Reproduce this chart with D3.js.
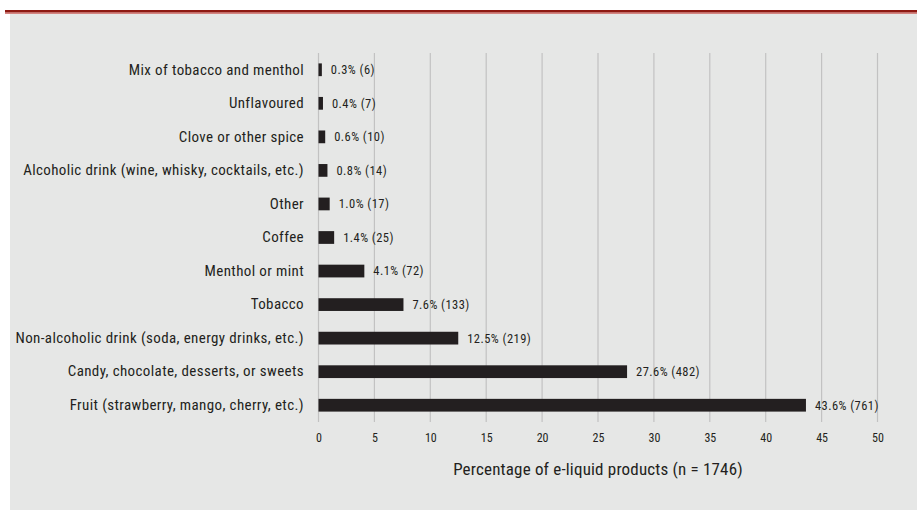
<!DOCTYPE html>
<html>
<head>
<meta charset="utf-8">
<script src="https://cdn.jsdelivr.net/npm/d3@7"></script>
<style>
  body { margin: 0; background: #fff; }
  svg { display: block; }
  text { font-family: "Liberation Sans Narrow", "Roboto Condensed", "Liberation Sans", sans-serif; fill: #231f20; }
</style>
</head>
<body>
<div id="chart"></div>
<script>
// flavour categories, top to bottom
var categories = [
    "Mix of tobacco and menthol",
    "Unflavoured",
    "Clove or other spice",
    "Alcoholic drink (wine, whisky, cocktails, etc.)",
    "Other",
    "Coffee",
    "Menthol or mint",
    "Tobacco",
    "Non-alcoholic drink (soda, energy drinks, etc.)",
    "Candy, chocolate, desserts, or sweets",
    "Fruit (strawberry, mango, cherry, etc.)"
];
var percents = [0.3, 0.4, 0.6, 0.8, 1.0, 1.4, 4.1, 7.6, 12.5, 27.6, 43.6];
var counts = [6, 7, 10, 14, 17, 25, 72, 133, 219, 482, 761];
var xTicks = [0, 5, 10, 15, 20, 25, 30, 35, 40, 45, 50];
var xTitle = "Percentage of e-liquid products (n = 1746)";

var w = 917, h = 510;

var data = categories.map(function (c, i) {
    return {cat: c, pct: percents[i], n: counts[i]};
});

var svg = d3.select("#chart").append("svg")
    .attr("width", w)
    .attr("height", h);

// panel background
svg.append("rect")
    .attr("x", 10).attr("y", 14)
    .attr("width", w - 10).attr("height", h - 14)
    .attr("fill", "#e6e7e6");

// red rule on top
svg.append("rect")
    .attr("x", 5).attr("y", 10)
    .attr("width", w - 5).attr("height", 2.5)
    .attr("fill", "#8e1912");
svg.append("rect")
    .attr("x", 5).attr("y", 12.5)
    .attr("width", w - 5).attr("height", 1.2)
    .attr("fill", "#c0504a");

var x = d3.scaleLinear().domain([0, 50]).range([318.5, 877.5]);
var y = d3.scaleBand().domain(categories).range([53, 422])
    .paddingInner(0.62).paddingOuter(0.31);

// gridlines
svg.append("g").selectAll("line")
    .data(xTicks)
    .enter()
    .append("line")
    .attr("x1", function (d) { return x(d); })
    .attr("x2", function (d) { return x(d); })
    .attr("y1", 53)
    .attr("y2", 422)
    .attr("stroke", "#c2c2c2")
    .attr("stroke-width", 1.2);

// x axis tick labels
var xAxis = d3.axisBottom(x).tickValues(xTicks).tickSize(0).tickPadding(0);
var gx = svg.append("g")
    .attr("transform", "translate(0,433)")
    .call(xAxis);
gx.select(".domain").remove();
gx.selectAll("text")
    .attr("font-size", "12px")
    .attr("dy", "0.71em")
    .style("fill", "#231f20");

// category labels
var yAxis = d3.axisLeft(y).tickSize(0).tickPadding(0);
var gy = svg.append("g")
    .attr("transform", "translate(304,0)")
    .call(yAxis);
gy.select(".domain").remove();
gy.selectAll("text")
    .attr("font-size", "15px")
    .attr("letter-spacing", "0.38px")
    .style("fill", "#231f20");

// bars
svg.append("g").selectAll("rect")
    .data(data)
    .enter()
    .append("rect")
    .attr("x", x(0))
    .attr("y", function (d) { return y(d.cat); })
    .attr("width", function (d) { return x(d.pct) - x(0); })
    .attr("height", y.bandwidth())
    .attr("fill", "#231f20");

// value labels
svg.append("g").selectAll("text")
    .data(data)
    .enter()
    .append("text")
    .attr("x", function (d) { return x(d.pct) + 9; })
    .attr("y", function (d) { return y(d.cat) + y.bandwidth() / 2; })
    .attr("dy", "0.35em")
    .attr("font-size", "12.5px")
    .attr("letter-spacing", "0.45px")
    .text(function (d) { return d.pct.toFixed(1) + "% (" + d.n + ")"; });

// axis title
svg.append("text")
    .attr("x", (x(0) + x(50)) / 2)
    .attr("y", 469)
    .attr("dy", "0.35em")
    .attr("text-anchor", "middle")
    .attr("font-size", "17px")
    .attr("letter-spacing", "0.18px")
    .text(xTitle);
</script>
</body>
</html>
